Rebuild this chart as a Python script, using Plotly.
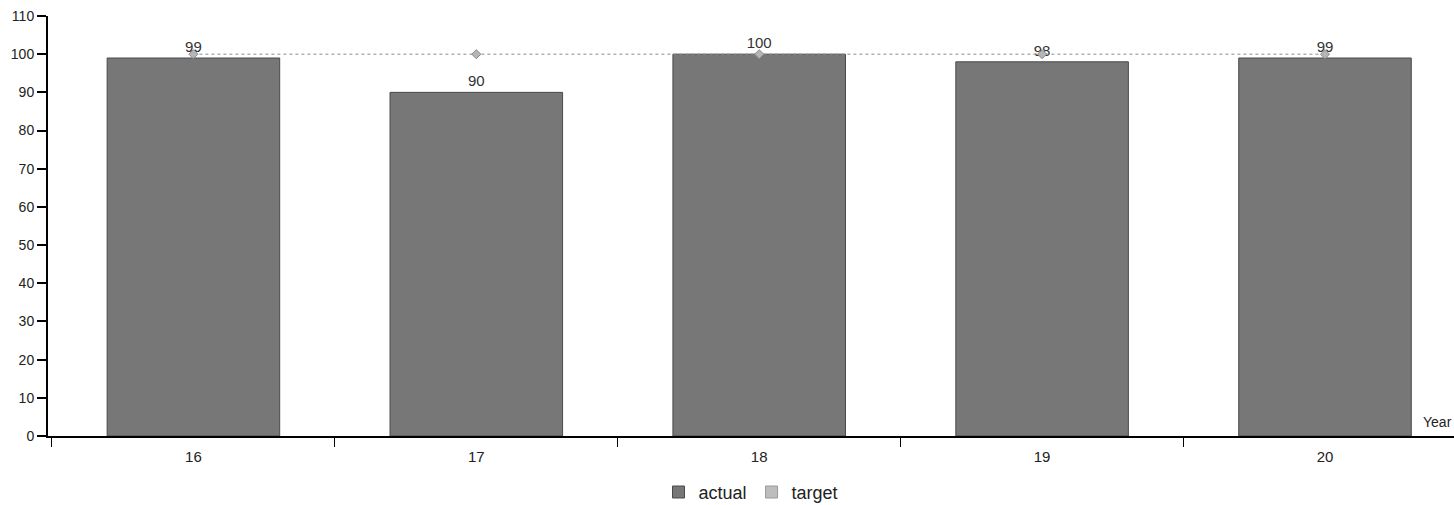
import plotly.graph_objects as go

years = ["16", "17", "18", "19", "20"]
actual = [99, 90, 100, 98, 99]
target = [100, 100, 100, 100, 100]
y_ticks = [0, 10, 20, 30, 40, 50, 60, 70, 80, 90, 100, 110]

FONT = "Liberation Sans, Arial, sans-serif"

fig = go.Figure()
fig.add_trace(go.Bar(
    x=years, y=actual, name="actual",
    marker=dict(color="#777777", line=dict(color="#4a4a4a", width=1)),
    width=0.61,
    text=[str(v) for v in actual], textposition="outside",
    textfont=dict(color="#333333", size=15, family=FONT),
    cliponaxis=False,
))
fig.add_trace(go.Scatter(
    x=years, y=target, name="target", mode="lines+markers",
    line=dict(color="#8a8a8a", width=1, dash="dot"),
    marker=dict(symbol="diamond", size=7, color="#b5b5b5", line=dict(color="#8a8a8a", width=1)),
    showlegend=False, cliponaxis=False,
))
# legend swatch for target (square, like the reference legend)
fig.add_trace(go.Bar(
    x=[years[0]], y=[None], name="target",
    marker=dict(color="#bdbdbd", line=dict(color="#9a9a9a", width=1)),
    showlegend=True, hoverinfo="skip",
))

fig.update_layout(
    width=1454, height=505, autosize=False,
    margin=dict(l=48, r=0, t=16, b=69, autoexpand=False),
    plot_bgcolor="white", paper_bgcolor="white",
    font=dict(family=FONT, size=14, color="#222222"),
    barmode="overlay",
    showlegend=True,
    legend=dict(orientation="h", x=0.5, xanchor="center", y=-0.09, yanchor="top",
                font=dict(size=18, family=FONT, color="#222222"),
                tracegroupgap=0),
    annotations=[dict(text="Year", xref="paper", yref="paper", x=1.0, xanchor="right",
                      y=0.0, yanchor="bottom", yshift=4, xshift=0, showarrow=False,
                      font=dict(size=14, family=FONT, color="#222222"))],
)
fig.update_xaxes(
    type="category", range=[-0.514, 4.456], automargin=False,
    showline=True, linecolor="#000000", linewidth=2,
    ticks="outside", tickson="boundaries", ticklen=9, tickcolor="#000000", tickwidth=1,
    ticklabelstandoff=6, tickfont=dict(size=15),
    showgrid=False, zeroline=False,
)
fig.update_yaxes(
    range=[0, 110], tickvals=y_ticks, automargin=False,
    showline=True, linecolor="#000000", linewidth=2,
    ticks="outside", ticklen=9, tickcolor="#000000", tickwidth=2,
    tickfont=dict(size=14),
    showgrid=False, zeroline=False,
)

fig.write_html("out.html", config={"displayModeBar": False},
               post_script="document.body.style.margin='0';document.body.style.overflow='hidden';")
